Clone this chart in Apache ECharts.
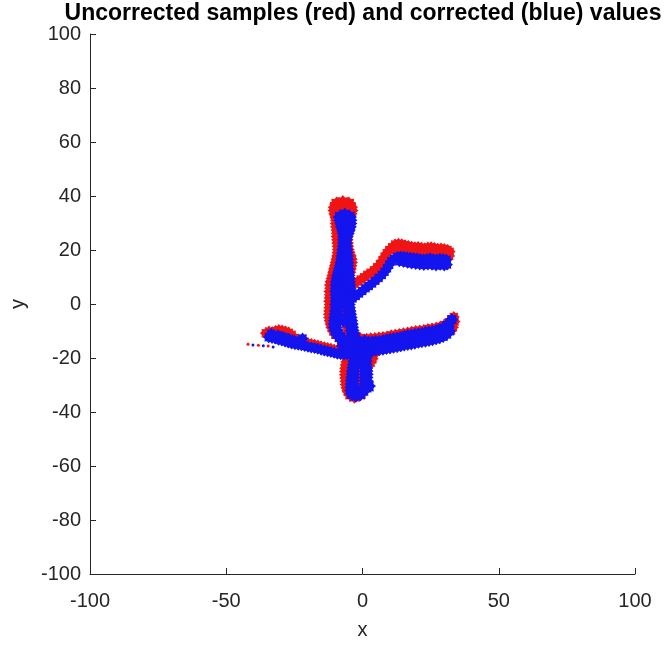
<!DOCTYPE html>
<html>
<head>
<meta charset="utf-8">
<title>Uncorrected vs corrected samples</title>
<script src="https://cdn.jsdelivr.net/npm/echarts@6/dist/echarts.min.js"></script>
<style>
  html, body { margin: 0; padding: 0; background: #ffffff; }
  #chart { width: 668px; height: 645px; }
</style>
</head>
<body>
<div id="chart"></div>
<script>
// Axis ticks
const xTickValues = [-100, -50, 0, 50, 100];
const yTickValues = [-100, -80, -60, -40, -20, 0, 20, 40, 60, 80, 100];

// Uncorrected samples (red)
const redTrunk = [
  [-7.2,37.6],[-8.4,36.8],[-6.0,36.6],
  [-9.5,37],[-5.0,37],[-10.0,35.8],[-4.4,35.8],[-10.1,34.6],[-4.2,34.6],[-9.8,33.4],[-4.6,33.4],
  [-9.4,32.2],[-5.0,32.2],[-9.2,31],[-5.2,31],[-9.3,29.8],[-5.4,29.8],[-9.2,28.6],[-5.5,28.6],
  [-9.0,27.4],[-5.6,27.4],[-8.9,26.2],[-5.8,26.2],[-9.0,25],[-6.0,25],[-8.8,23.8],[-6.0,23.8],
  [-8.7,22.6],[-5.9,22.6],[-8.6,21.4],[-5.8,21.4],[-8.5,20.2],[-5.6,20.2],[-8.6,19],[-5.4,19],
  [-8.8,17.8],[-4.8,17.8],[-9.0,16.6],[-4.5,16.6],[-9.3,15.4],[-4.4,15.4],[-9.6,14.2],[-4.6,14.2],
  [-9.9,13],[-4.8,13],[-10.2,11.8],[-5.0,11.8],[-10.5,10.6],[-5.6,10.6],[-10.8,9.4],[-5.9,9.4],
  [-11.2,8.2],[-6.2,8.2],[-11.4,7],[-6.4,7],[-11.3,5.8],[-6.6,5.8],[-11.6,4.6],[-6.6,4.6],
  [-11.4,3.4],[-6.5,3.4],[-11.5,2.2],[-6.4,2.2],[-11.7,1],[-6.3,1],[-11.5,-0.2],[-6.2,-0.2],
  [-11.6,-1.4],[-6.1,-1.4],[-11.7,-2.6],[-6.0,-2.6],[-11.8,-3.8],[-5.8,-3.8],[-11.7,-5],[-5.6,-5],
  [-11.5,-6.2],[-5.4,-6.2],[-11.2,-7.4],[-5.2,-7.4],[-10.9,-8.6],[-5.0,-8.6],[-10.3,-9.8],[-4.8,-9.8],
  [-9.6,-11],[-4.5,-11]
];
const redStem = [
  [-7.5,-13],[-1.0,-13],[-6.5,-14.2],[0.5,-14.2],[-5.6,-15.4],[1.8,-15.4],[-5.2,-16.6],[2.8,-16.6],
  [-5.0,-17.8],[3.4,-17.8],[-5.0,-19],[3.5,-19],[-5.2,-20.2],[3.2,-20.2],[-5.4,-21.4],[2.6,-21.4],
  [-5.6,-22.6],[1.6,-22.6],[-5.8,-23.8],[1.2,-23.8],[-5.9,-25],[1.0,-25],[-5.9,-26.2],[0.8,-26.2],
  [-5.8,-27.4],[0.6,-27.4],[-5.7,-28.6],[0.4,-28.6],[-5.6,-29.8],[0.2,-29.8],[-5.4,-31],[0.0,-31],
  [-5.0,-32.2],[-0.4,-32.2],[-4.4,-33.4],[-1.0,-33.4],[-3.0,-34.2]
];
const redUpperArm = [
  [-3.0,7.5],[-1.8,8.3],[-0.6,9.1],[0.6,9.9],[1.8,10.8],[3.0,11.6],[4.2,12.5],[5.4,13.6],
  [6.4,14.8],[7.3,16.1],[8.1,17.5],[8.9,18.8],[9.8,20.0],[10.9,21.0],
  [12.0,22.0],[13.2,22.3],[14.4,22.1],[15.6,21.8],[16.8,21.5],[18.0,21.2],[19.2,21.0],[20.4,21.1],
  [21.6,20.8],[22.8,20.6],[24.0,20.9],[25.2,21.0],[26.4,20.7],[27.6,20.5],[28.8,20.6],[30.0,20.4],
  [31.2,20.0],[32.0,19.4],
  [12.5,20.0],[15.0,19.8],[17.5,19.3],[20.0,19.0],[22.5,18.8],[25.0,18.9],[27.5,18.6],[30.0,18.4],
  [31.8,17.8]
];
const redLowerArm = [
  [0.0,-13.2],[1.5,-12.9],[3.0,-12.7],[4.5,-12.6],[6.0,-12.4],[7.5,-12.2],[9.0,-12.0],[10.5,-11.6],
  [12.0,-11.4],[13.5,-11.1],[15.0,-10.8],[16.5,-10.6],[18.0,-10.3],[19.5,-10.0],[21.0,-9.8],[22.5,-9.6],
  [24.0,-9.3],[25.5,-9.1],[27.0,-8.8],[28.5,-8.4],[30.0,-7.8],[31.3,-6.9],[32.5,-5.8],[33.5,-4.8],
  [33.8,-6.5],[33.2,-8.6],
  [2.0,-16.0],[6.0,-15.5],[10.0,-15.0],[14.0,-14.3],[18.0,-13.5],[22.0,-12.8],[26.0,-12.2],[30.0,-11.2],
  [32.5,-9.8]
];
const redLeftArm = [
  [-35.5,-10.8],[-34.3,-10.2],[-33.1,-10.5],[-31.9,-10.0],[-30.7,-9.6],[-29.5,-9.8],[-28.3,-10.2],
  [-27.1,-10.6],[-26.0,-11.4],[-24.8,-12.6],[-23.6,-13.3],[-22.4,-13.7],[-21.2,-14.1],[-20.0,-14.5],
  [-18.8,-14.8],[-17.6,-15.1],[-16.4,-15.4],[-15.2,-15.7],[-14.0,-16.0],[-12.8,-16.3],[-11.6,-16.6],
  [-10.4,-16.9],[-9.2,-17.2]
];
const redTrail = [[-42.0,-14.9],[-38.2,-15.3],[-34.6,-15.6]];

// Corrected values (blue)
const blueTrunk = [
  [-6.5,33.0],
  [-8.2,32.2],[-4.8,32.2],[-8.0,31],[-4.6,31],[-7.6,29.8],[-4.6,29.8],[-7.4,28.6],[-4.8,28.6],
  [-7.0,27.4],[-5.2,27.4],[-6.8,26.2],[-5.6,26.2],[-6.6,25],[-6.0,25],[-6.7,23.8],[-6.3,23.8],
  [-6.6,22.6],[-6.4,22.6],[-6.8,21.4],[-6.3,21.4],[-6.9,20.2],[-6.1,20.2],[-7.0,19],[-6.0,19],
  [-7.2,17.8],[-5.9,17.8],[-7.3,16.6],[-5.8,16.6],[-7.6,15.4],[-5.7,15.4],[-7.8,14.2],[-5.8,14.2],
  [-8.1,13],[-5.6,13],[-8.4,11.8],[-5.5,11.8],[-8.8,10.6],[-5.3,10.6],[-9.0,9.4],[-5.2,9.4],
  [-9.3,8.2],[-5.1,8.2],[-9.4,7],[-5.0,7],[-9.3,5.8],[-4.9,5.8],[-9.5,4.6],[-4.8,4.6],
  [-9.4,3.4],[-4.9,3.4],[-9.3,2.2],[-5.1,2.2],[-9.4,1],[-5.2,1],[-9.5,-0.2],[-5.2,-0.2],
  [-9.4,-1.4],[-5.1,-1.4],[-9.6,-2.6],[-4.9,-2.6],[-9.7,-3.8],[-4.7,-3.8],[-9.9,-5],[-4.5,-5],
  [-10.0,-6.2],[-4.3,-6.2],[-10.1,-7.4],[-4.1,-7.4],[-10.1,-8.6],[-4.0,-8.6],[-9.7,-9.8],[-3.8,-9.8],
  [-9.1,-11],[-3.5,-11],[-8.3,-12.2],[-3.2,-12.2],[-7.4,-13.4],[-2.9,-13.4],[-7.0,-6.0],[-7.2,2.0]
];
const blueStem = [
  [-7.0,-15.5],[-5.0,-17.5],[-3.0,-14.5],[-1.5,-16.0],[1.5,-15.0],
  [-5.0,-14],[0.8,-14],[-4.6,-15.2],[1.2,-15.2],[-4.2,-16.4],[1.6,-16.4],[-3.6,-17.6],[1.6,-17.6],
  [-2.8,-18.8],[1.2,-18.8],[-2.6,-20],[1.0,-20],[-2.8,-21.2],[1.0,-21.2],[-3.0,-22.4],[1.0,-22.4],
  [-3.2,-23.6],[1.2,-23.6],[-3.4,-24.8],[1.3,-24.8],[-3.5,-26],[1.4,-26],[-3.6,-27.2],[1.3,-27.2],
  [-3.7,-28.4],[1.2,-28.4],[-3.8,-29.6],[1.3,-29.6],[-3.9,-30.8],[1.4,-30.8],[-4.0,-32],[0.2,-32],
  [-3.8,-33.2],[-0.8,-33.2],[-2.4,-33.8],[2.2,-30.4]
];
const blueUpperArm = [
  [-3.7,2.0],[-2.5,3.0],[-1.3,3.9],[-0.1,4.8],[1.1,5.8],[2.3,6.7],[3.5,7.6],[4.7,8.6],
  [5.9,9.6],[7.1,10.7],[8.1,11.9],[9.0,13.2],[9.8,14.5],[10.6,15.8],[11.6,16.8],
  [12.8,17.4],[14.0,17.6],[15.2,17.5],[16.4,17.3],[17.6,17.1],[18.8,17.0],[20.0,16.9],[21.2,16.7],
  [22.4,16.5],[23.6,16.7],[24.8,16.9],[26.0,16.6],[27.2,16.5],[28.4,16.8],[29.6,16.7],[30.8,16.4],
  [13.5,15.8],[15.0,15.6],[16.5,15.3],[18.0,15.0],[19.5,14.8],[21.0,14.6],[22.5,14.4],[24.0,14.6],
  [25.5,14.5],[27.0,14.3],[28.5,14.5],[30.0,14.3],[31.0,14.6]
];
const blueLowerArm = [
  [1.0,-14.6],[2.3,-14.2],[3.6,-14.0],[4.9,-13.8],[6.2,-13.9],[7.5,-13.5],[8.8,-13.2],[10.1,-13.0],
  [11.4,-12.8],[12.7,-12.6],[14.0,-12.3],[15.3,-12.0],[16.6,-11.6],[17.9,-11.5],[19.2,-11.2],[20.5,-11.0],
  [21.8,-10.8],[23.1,-10.5],[24.4,-10.3],[25.7,-10.1],[27.0,-9.8],[28.3,-9.4],[29.6,-8.9],[30.9,-8.0],
  [32.0,-7.0],[32.8,-5.8],
  [1.0,-18.0],[2.3,-17.6],[3.6,-17.4],[4.9,-17.1],[6.2,-16.9],[7.5,-16.8],[8.8,-16.5],[10.1,-16.3],
  [11.4,-16.0],[12.7,-15.8],[14.0,-15.5],[15.3,-15.2],[16.6,-15.0],[17.9,-14.8],[19.2,-14.5],[20.5,-14.2],
  [21.8,-14.0],[23.1,-13.8],[24.4,-13.5],[25.7,-13.2],[27.0,-12.9],[28.3,-12.5],[29.6,-12.0],[30.9,-11.2],
  [32.0,-10.0]
];
const blueLeftArm = [
  [-34.4,-12.3],[-33.2,-12.6],[-32.0,-12.8],[-30.8,-13.2],[-29.6,-13.5],[-28.4,-13.9],[-27.2,-14.3],
  [-26.0,-14.6],[-24.8,-14.9],[-23.6,-15.1],[-22.4,-15.3],[-21.2,-15.6],[-20.0,-15.8],[-18.8,-16.1],
  [-17.6,-16.3],[-16.4,-16.6],[-15.2,-16.9],[-14.0,-17.2],[-12.8,-17.5],[-11.6,-17.8],[-10.4,-18.1],
  [-9.2,-18.4],[-8.0,-18.6],[-6.8,-18.7],[-5.6,-18.6],
  [-33.5,-11.0],[-31.0,-11.6],[-29.0,-12.2],[-27.0,-12.9],[-25.0,-13.5],[-22.0,-12.8]
];
const blueTrail = [[-40.2,-15.2],[-36.4,-15.5],[-32.8,-15.9]];

const RED = '#f01414';
const BLUE = '#1414ee';
const AXIS = '#262626';
const FONT = '"Liberation Sans", Arial, Helvetica, sans-serif';
// eight-pointed star marker, gives the ragged edge of a dense marker cloud
const STAR = 'path://M2,1L1.665,1.276L1.707,1.707L1.276,1.665L1,2L0.724,1.665L0.293,1.707L0.335,1.276L0,1L0.335,0.724L0.293,0.293L0.724,0.335L1,0L1.276,0.335L1.707,0.293L1.665,0.724Z';

function cloud(name, data, color, size, symbol) {
  return {
    name: name,
    type: 'scatter',
    data: data,
    symbol: symbol || STAR,
    symbolSize: size,
    itemStyle: { color: color, opacity: 1 },
    emphasis: { disabled: true },
    silent: true
  };
}

const chart = echarts.init(document.getElementById('chart'), null, { renderer: 'canvas' });

chart.setOption({
  animation: false,
  backgroundColor: '#ffffff',
  title: {
    text: 'Uncorrected samples (red) and corrected (blue) values',
    left: 363,
    top: 2,
    padding: 0,
    textAlign: 'center',
    textStyle: { fontFamily: FONT, fontSize: 23, fontWeight: 'bold', color: '#000000' }
  },
  grid: { left: 89, top: 34, width: 546, height: 546, containLabel: false },
  xAxis: {
    type: 'value',
    min: xTickValues[0],
    max: xTickValues[xTickValues.length - 1],
    interval: xTickValues[1] - xTickValues[0],
    name: 'x',
    nameLocation: 'middle',
    nameGap: 46,
    nameTextStyle: { fontFamily: FONT, fontSize: 20, color: AXIS },
    axisLine: { show: true, onZero: false, lineStyle: { color: AXIS, width: 1 } },
    axisTick: { show: true, inside: true, length: 6, lineStyle: { color: AXIS } },
    axisLabel: { fontFamily: FONT, fontSize: 20, color: AXIS, margin: 17 },
    splitLine: { show: false }
  },
  yAxis: {
    type: 'value',
    min: yTickValues[0],
    max: yTickValues[yTickValues.length - 1],
    interval: yTickValues[1] - yTickValues[0],
    name: 'y',
    nameLocation: 'middle',
    nameGap: 62,
    nameTextStyle: { fontFamily: FONT, fontSize: 20, color: AXIS },
    axisLine: { show: true, onZero: false, lineStyle: { color: AXIS, width: 1 } },
    axisTick: { show: true, inside: true, length: 6, lineStyle: { color: AXIS } },
    axisLabel: { fontFamily: FONT, fontSize: 20, color: AXIS, margin: 9 },
    splitLine: { show: false }
  },
  series: [
    cloud('uncorrected trunk', redTrunk, RED, 15),
    cloud('uncorrected stem', redStem, RED, 15),
    cloud('uncorrected upper arm', redUpperArm, RED, 12),
    cloud('uncorrected lower arm', redLowerArm, RED, 12),
    cloud('uncorrected left arm', redLeftArm, RED, 12),
    cloud('uncorrected trail', redTrail, RED, 3, 'circle'),
    cloud('corrected trunk', blueTrunk, BLUE, 15),
    cloud('corrected stem', blueStem, BLUE, 15),
    cloud('corrected upper arm', blueUpperArm, BLUE, 12),
    cloud('corrected lower arm', blueLowerArm, BLUE, 13),
    cloud('corrected left arm', blueLeftArm, BLUE, 12),
    cloud('corrected trail', blueTrail, BLUE, 3, 'circle')
  ]
});
</script>
</body>
</html>
